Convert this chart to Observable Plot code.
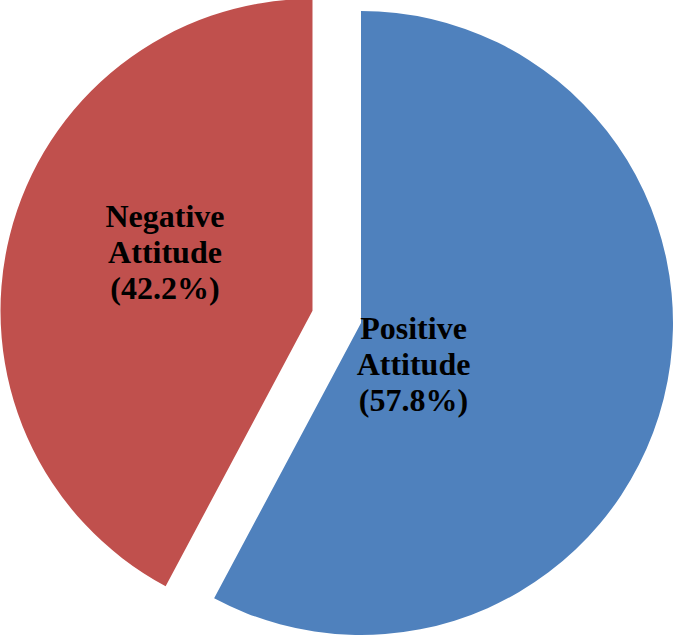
<!DOCTYPE html>
<html><head><meta charset="utf-8">
<script src="https://cdn.jsdelivr.net/npm/d3@7"></script>
<script src="https://cdn.jsdelivr.net/npm/@observablehq/plot@0.6"></script>
<style>
html,body{margin:0;padding:0;background:#fff;overflow:hidden}
#chart svg text{font-family:"Liberation Serif",serif !important;font-weight:bold}
</style>
</head><body><div id="chart"></div>
<script>
// ---- data ----
const categories = ["Positive Attitude", "Negative Attitude"];
const labelLines = [["Positive", "Attitude"], ["Negative", "Attitude"]];
const shares = [57.8, 42.2];
const colors = ["#4F81BD", "#C0504D"];

// ---- layout (pixels) ----
const W = 673, H = 638;
const layout = {
  cx: 361, cy: 323, r: 312,
  explode: [0, 50],                    // offset of each slice along its bisector
  labelOffset: [[52, 40], [-148, -60]] // label centre relative to slice apex
};

const rows = categories.map((c, i) => ({
  category: c, share: shares[i], color: colors[i],
  label: labelLines[i].join("\n") + "\n(" + shares[i].toFixed(1) + "%)"
}));
const arcs = d3.pie().sort(null).value(d => d.share)(rows);
arcs.forEach((a, i) => {
  const mid = (a.startAngle + a.endAngle) / 2;
  a.ox = layout.cx + layout.explode[i] * Math.sin(mid);
  a.oy = layout.cy - layout.explode[i] * Math.cos(mid);
  a.lx = a.ox + layout.labelOffset[i][0];
  a.ly = a.oy + layout.labelOffset[i][1];
});

function slicesMark(index, scales) {
  const g = d3.create("svg:g");
  const k = scales.x(1) - scales.x(0);
  const arcGen = d3.arc().innerRadius(0).outerRadius(layout.r * k);
  for (const a of arcs) {
    g.append("path")
      .attr("transform", `translate(${scales.x(a.ox)},${scales.y(a.oy)})`)
      .attr("d", arcGen(a))
      .attr("fill", a.data.color);
  }
  return g.node();
}

const chart = Plot.plot({
  width: W, height: H, margin: 0,
  x: {domain: [0, W], range: [0, W], axis: null},
  y: {domain: [0, H], range: [0, H], axis: null},
  marks: [
    slicesMark,
    Plot.text(arcs, {
      x: "lx", y: "ly", text: d => d.data.label,
      fontSize: 32, fontWeight: "bold", fontFamily: "Liberation Serif",
      lineHeight: 1.13, fill: "black", textAnchor: "middle"
    })
  ]
});
document.getElementById("chart").append(chart);
</script>
</body></html>
